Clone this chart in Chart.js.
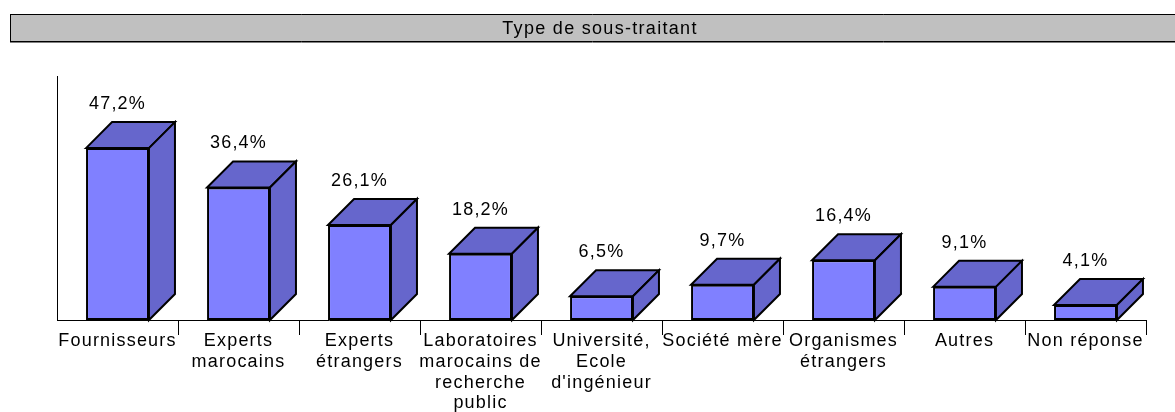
<!DOCTYPE html>
<html>
<head>
    <title>Type de sous-traitant</title>
    <script src="https://cdn.jsdelivr.net/npm/chart.js"></script>
    <style>
        body { margin: 0; background: #fff; }
    </style>
</head>
<body>
    <canvas id="chart" width="1175" height="412"></canvas>

    <script>
        // data
        const titleText = "Type de sous-traitant";
        const categories = [
            ["Fournisseurs"],
            ["Experts", "marocains"],
            ["Experts", "étrangers"],
            ["Laboratoires", "marocains de", "recherche", "public"],
            ["Université,", "Ecole", "d'ingénieur"],
            ["Société mère"],
            ["Organismes", "étrangers"],
            ["Autres"],
            ["Non réponse"]
        ];
        const values = [47.2, 36.4, 26.1, 18.2, 6.5, 9.7, 16.4, 9.1, 4.1];
        const valueLabels = values.map(v => v.toFixed(1).replace(".", ",") + "%");

        const DEPTH = 26;
        const FONT = "'Liberation Sans', Arial, sans-serif";

        // gray title bar and letter spacing like the original
        const frame = {
            id: "frame",
            beforeDraw(chart) {
                const ctx = chart.ctx;
                ctx.letterSpacing = "1.2px";
                ctx.save();
                ctx.fillStyle = "#fff";
                ctx.fillRect(0, 0, chart.width, chart.height);

                ctx.fillStyle = "#c0c0c0";
                ctx.fillRect(10, 14, chart.width - 10, 28);
                ctx.strokeStyle = "#000";
                ctx.lineWidth = 1;
                ctx.beginPath();
                ctx.moveTo(10, 14.5); ctx.lineTo(chart.width, 14.5);
                ctx.moveTo(10.5, 14); ctx.lineTo(10.5, 42);
                ctx.moveTo(10, 41.5); ctx.lineTo(chart.width, 41.5);
                ctx.stroke();
                ctx.strokeStyle = "#808080";
                ctx.beginPath();
                ctx.moveTo(10, 42.5); ctx.lineTo(chart.width, 42.5);
                ctx.stroke();

                ctx.letterSpacing = "1.3px";
                ctx.fillStyle = "#000";
                ctx.font = "18px " + FONT;
                ctx.textAlign = "center";
                ctx.textBaseline = "middle";
                ctx.fillText(titleText, 600, 29);
                ctx.restore();
            }
        };

        // top and side faces of each bar, then the value above it
        const bars3d = {
            id: "bars3d",
            afterDatasetsDraw(chart) {
                const ctx = chart.ctx;
                const meta = chart.getDatasetMeta(0);
                ctx.save();
                ctx.fillStyle = "#6666cc";
                ctx.strokeStyle = "#000";
                ctx.lineWidth = 2;
                ctx.lineJoin = "miter";
                meta.data.forEach((bar, i) => {
                    const l = bar.x - bar.width / 2;
                    const r = bar.x + bar.width / 2;
                    const t = bar.y;
                    const b = bar.base;

                    ctx.beginPath();
                    ctx.moveTo(l, t);
                    ctx.lineTo(l + DEPTH, t - DEPTH);
                    ctx.lineTo(r + DEPTH, t - DEPTH);
                    ctx.lineTo(r, t);
                    ctx.closePath();
                    ctx.fill();
                    ctx.stroke();

                    ctx.beginPath();
                    ctx.moveTo(r, t);
                    ctx.lineTo(r + DEPTH, t - DEPTH);
                    ctx.lineTo(r + DEPTH, b - DEPTH);
                    ctx.lineTo(r, b);
                    ctx.closePath();
                    ctx.fill();
                    ctx.stroke();
                });

                ctx.fillStyle = "#000";
                ctx.font = "18px " + FONT;
                ctx.textAlign = "center";
                ctx.textBaseline = "middle";
                meta.data.forEach((bar, i) => {
                    ctx.fillText(valueLabels[i], bar.x, bar.y - DEPTH - 18);
                });
                ctx.restore();
            }
        };

        const ctx = document.getElementById("chart").getContext("2d");
        const myChart = new Chart(ctx, {
            type: "bar",
            data: {
                labels: categories,
                datasets: [
                    {
                        data: values,
                        backgroundColor: "#8080ff",
                        borderColor: "#000",
                        borderWidth: 2,
                        borderSkipped: false,
                        barPercentage: 0.52,
                        categoryPercentage: 1,
                    },
                ],
            },
            options: {
                responsive: false,
                animation: false,
                devicePixelRatio: 1,
                layout: {
                    padding: { left: 56, right: 29, top: 76, bottom: 0 },
                },
                plugins: {
                    legend: { display: false },
                    tooltip: { enabled: false },
                    title: { display: false },
                },
                scales: {
                    x: {
                        grid: {
                            offset: true,
                            drawOnChartArea: false,
                            tickLength: 15,
                            color: c => (c.index === 0 ? "rgba(0,0,0,0)" : "#000"),
                            lineWidth: 1,
                        },
                        border: { color: "#000", width: 1 },
                        ticks: {
                            color: "#000",
                            font: { family: FONT, size: 18, lineHeight: 1.15 },
                            padding: -4,
                            maxRotation: 0,
                            autoSkip: false,
                        },
                        afterFit: s => { s.height = 92; },
                    },
                    y: {
                        min: 0,
                        max: 67,
                        grid: { display: false },
                        ticks: { display: false },
                        border: { color: "#000", width: 1 },
                        afterFit: s => { s.width = 1; },
                    },
                },
            },
            plugins: [frame, bars3d],
        });
    </script>
</body>
</html>
